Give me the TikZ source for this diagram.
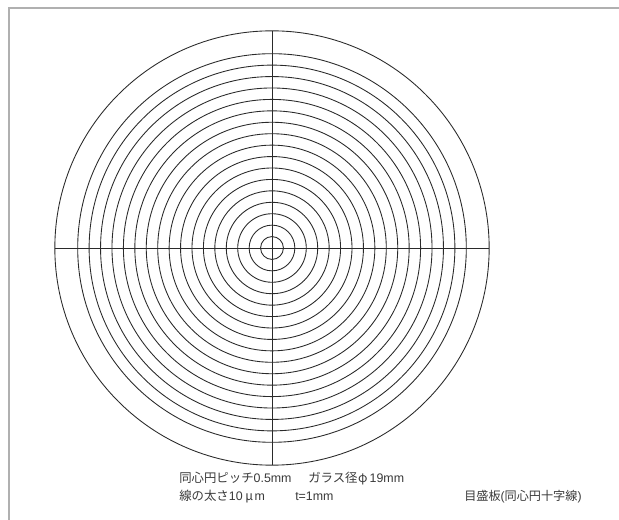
\documentclass[tikz,border=0pt]{standalone}
\usepackage{fontspec}
\setmainfont{Liberation Sans}
\newfontfamily\cjk{Noto Sans CJK JP}
\definecolor{framegray}{HTML}{B0B0B0}
\definecolor{inkgray}{HTML}{2A2A2A}
\definecolor{txtgray}{HTML}{3A3A3A}
\tikzset{
  px/.style={x=0.75pt,y=-0.75pt},
  ring/.style={draw=inkgray,line width=0.65pt},
  crossline/.style={draw=inkgray,line width=0.65pt},
  framerule/.style={draw=framegray,line width=1.5pt},
  label/.style={inner sep=0pt,anchor=base west,text=txtgray,font=\fontsize{9.3pt}{11pt}\selectfont}
}
\begin{document}
\begin{tikzpicture}[px]
\useasboundingbox (0,0) rectangle (619,520);
\fill[white] (0,0) rectangle (619,520);
\coordinate (c) at (272,248);
\coordinate (fa) at (8.5,520);
\coordinate (fb) at (8.5,8.5);
\coordinate (fc) at (619,8.5);
\draw[framerule] (fa) -- (fb) -- (fc);
\foreach \k in {1,...,17,19}{
  \draw[ring] (c) circle [radius=11.43*\k];
}
\coordinate (l) at (54.7,248);
\coordinate (r) at (489.3,248);
\coordinate (t) at (272,30.7);
\coordinate (b) at (272,465.3);
\draw[crossline] (l) -- (r);
\draw[crossline] (t) -- (b);
\node[label] (n1) at (179,483) {{\cjk 同心円ピッチ}0.5mm};
\node[label] (n2) at (308,483) {{\cjk ガラス径}\hspace{0.4pt}{\cjk φ}\hspace{1.6pt}19mm};
\node[label] (n3) at (179,501) {{\cjk 線の太さ}10\hspace{2pt}{\cjk μ}\hspace{1.2pt}m};
\node[label] (n4) at (295,501) {t=1mm};
\node[label,font=\fontsize{9.1pt}{11pt}\selectfont] (n5) at (464,501) {{\cjk 目盛板}({\cjk 同心円十字線})};
\end{tikzpicture}
\end{document}
